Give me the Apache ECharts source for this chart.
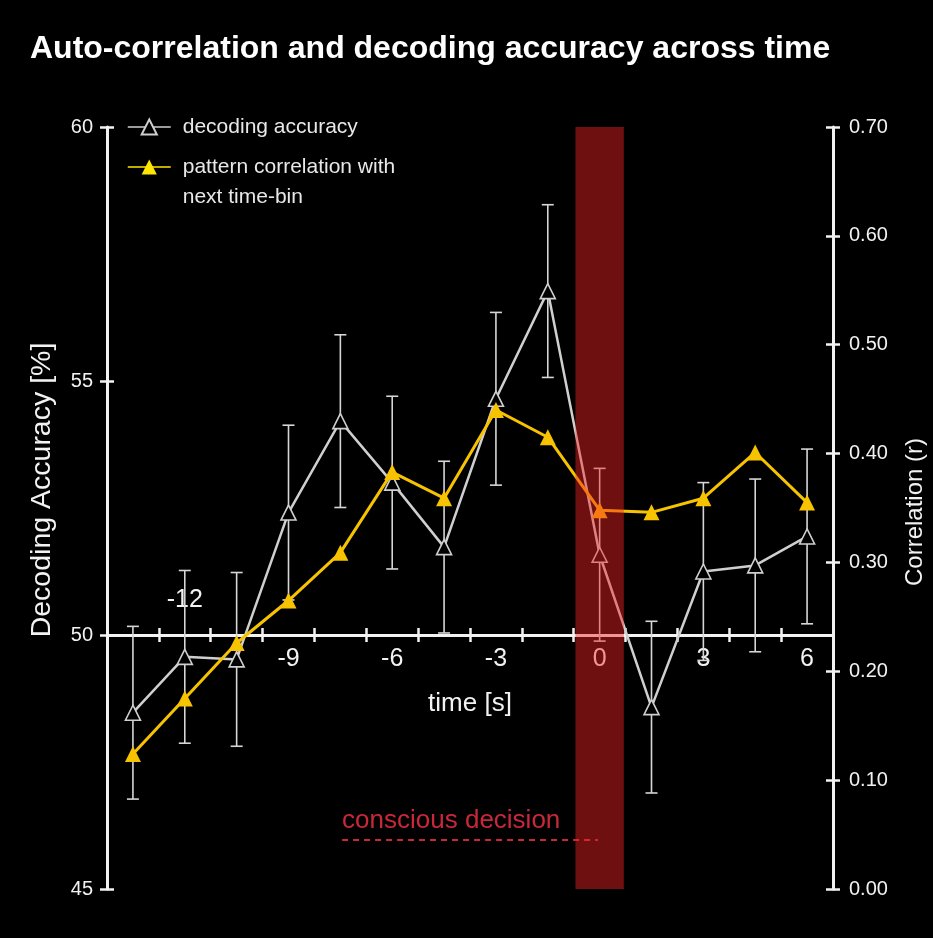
<!DOCTYPE html>
<html><head><meta charset="utf-8">
<script src="https://cdn.jsdelivr.net/npm/echarts@6/dist/echarts.min.js"></script>
<style>html,body{margin:0;padding:0;background:#000}#c{width:933px;height:938px}</style>
</head><body><div id="c"></div>
<script>
// ---- data ----
const timeBins = [-13.5, -12, -10.5, -9, -7.5, -6, -4.5, -3, -1.5, 0, 1.5, 3, 4.5, 6];
const decodingAccuracy = [48.47, 49.57, 49.52, 52.41, 54.21, 53.00, 51.73, 54.65, 56.77, 51.58, 48.58, 51.25, 51.37, 51.94];
const decodingSem = [1.70, 1.70, 1.71, 1.72, 1.70, 1.70, 1.69, 1.70, 1.70, 1.70, 1.69, 1.75, 1.70, 1.72];
const patternCorrelation = [0.124, 0.175, 0.226, 0.265, 0.309, 0.383, 0.359, 0.440, 0.415, 0.348, 0.346, 0.359, 0.401, 0.355];
const timeTickValues = [-12.75, -11.25, -9.75, -8.25, -6.75, -5.25, -3.75, -2.25, -0.75, 0.75, 2.25, 3.75, 5.25];
const timeLabelValues = [-9, -6, -3, 0, 3, 6];
const timeLabelAboveValues = [-12];
const decisionWindow = [-0.7, 0.7];
const decisionText = 'conscious decision';
const seriesNames = ['decoding accuracy', 'pattern correlation with next time-bin'];

// ---- layout ----
const W = 933, H = 938;
const gridTop = 127, gridBottom = 49, gridLeft = 107, gridRight = 100;
const accMin = 45, accMax = 60, accCross = 50;
const corrMin = 0, corrMax = 0.7;
const tMin = -14.25, tMax = 6.75;
const gridH = H - gridTop - gridBottom;
const xOffset = -gridH * (accCross - accMin) / (accMax - accMin);
const FONT = 'Liberation Sans, Arial, sans-serif';
const WHITE = '#f2f2f2';
const GRAY = '#cfcfcf';
const YELLOW = '#f7c300';

const chart = echarts.init(document.getElementById('c'), null, {renderer: 'canvas'});

const errData = timeBins.map((t, i) => [t, decodingAccuracy[i] - decodingSem[i], decodingAccuracy[i] + decodingSem[i]]);
const accData = timeBins.map((t, i) => [t, decodingAccuracy[i]]);
const corrData = timeBins.map((t, i) => [t, patternCorrelation[i]]);

const baseX = {
  type: 'value', min: tMin, max: tMax, position: 'bottom', offset: xOffset,
  splitLine: {show: false}
};
const baseYL = {type: 'value', min: accMin, max: accMax, interval: 5, position: 'left', splitLine: {show: false}};
const baseYR = {type: 'value', min: corrMin, max: corrMax, interval: 0.1, position: 'right', splitLine: {show: false}};
const tickStyle = {color: WHITE, width: 2.5};

chart.setOption({
  backgroundColor: '#000',
  animation: false,
  textStyle: {fontFamily: FONT},
  title: {
    text: 'Auto-correlation and decoding accuracy across time',
    left: 25, top: 28,
    textStyle: {color: '#ffffff', fontSize: 32, fontWeight: 'bold', fontFamily: FONT}
  },
  legend: [
    {
      data: [seriesNames[0]], orient: 'vertical', left: 127, top: 112, padding: 0,
      itemWidth: 43, itemHeight: 19,
      lineStyle: {width: 1.5},
      textStyle: {color: '#e8e8e8', fontSize: 21, lineHeight: 30, padding: [0, 0, 0, 7], fontFamily: FONT}
    },
    {
      data: [seriesNames[1]], orient: 'vertical', left: 127, top: 122, padding: 0,
      itemWidth: 43, itemHeight: 19,
      itemStyle: {color: '#ffe600'},
      lineStyle: {width: 1.5, color: '#ffe600'},
      formatter: () => '\u00a0\npattern correlation with\nnext time-bin',
      textStyle: {color: '#e8e8e8', fontSize: 21, lineHeight: 30, padding: [0, 0, 0, 7], fontFamily: FONT}
    }
  ],
  grid: {left: gridLeft, right: gridRight, top: gridTop, bottom: gridBottom, outerBoundsMode: 'none'},
  xAxis: [
    Object.assign({}, baseX, {
      axisLine: {show: true, lineStyle: {color: WHITE, width: 3}},
      axisTick: {show: true, customValues: timeTickValues, length: 7, lineStyle: tickStyle},
      axisLabel: {show: true, customValues: timeLabelValues, color: WHITE, fontSize: 25, margin: 12, fontFamily: FONT},
      name: 'time [s]', nameLocation: 'middle', nameGap: 56,
      nameTextStyle: {color: WHITE, fontSize: 26, fontFamily: FONT}
    }),
    Object.assign({}, baseX, {
      axisLine: {show: false},
      axisTick: {show: true, inside: true, customValues: timeTickValues, length: 7, lineStyle: tickStyle},
      axisLabel: {show: true, inside: true, customValues: timeLabelAboveValues, color: WHITE, fontSize: 25, margin: 22, fontFamily: FONT}
    })
  ],
  yAxis: [
    Object.assign({}, baseYL, {
      axisLine: {show: true, onZero: false, lineStyle: {color: WHITE, width: 3}},
      axisTick: {show: true, length: 7, lineStyle: tickStyle},
      axisLabel: {color: WHITE, fontSize: 20, margin: 14, fontFamily: FONT},
      name: 'Decoding Accuracy [%]', nameLocation: 'middle', nameGap: 50,
      nameTextStyle: {color: WHITE, fontSize: 28.5, fontFamily: FONT, padding: [0, 0, 0, 36]}
    }),
    Object.assign({}, baseYR, {
      axisLine: {show: true, onZero: false, lineStyle: {color: WHITE, width: 3}},
      axisTick: {show: true, length: 7, lineStyle: tickStyle},
      axisLabel: {color: WHITE, fontSize: 20, margin: 16, fontFamily: FONT, formatter: v => v.toFixed(2)},
      name: 'Correlation (r)', nameLocation: 'middle', nameGap: 70,
      nameTextStyle: {color: WHITE, fontSize: 24, fontFamily: FONT, padding: [0, 8, 0, 0]}
    }),
    Object.assign({}, baseYL, {
      axisLine: {show: false, onZero: false}, axisLabel: {show: false},
      axisTick: {show: true, inside: true, length: 7, lineStyle: tickStyle}
    }),
    Object.assign({}, baseYR, {
      axisLine: {show: false, onZero: false}, axisLabel: {show: false},
      axisTick: {show: true, inside: true, length: 7, lineStyle: tickStyle}
    })
  ],
  series: [
    {
      type: 'custom', xAxisIndex: 0, yAxisIndex: 0, z: 2, silent: true,
      encode: {x: 0, y: [1, 2]},
      data: errData,
      renderItem: function (params, api) {
        const x = api.value(0);
        const lo = api.coord([x, api.value(1)]);
        const hi = api.coord([x, api.value(2)]);
        const w = 6;
        const st = {stroke: '#d6d6d6', lineWidth: 1.6};
        return {type: 'group', children: [
          {type: 'line', shape: {x1: lo[0], y1: lo[1], x2: hi[0], y2: hi[1]}, style: st},
          {type: 'line', shape: {x1: lo[0] - w, y1: lo[1], x2: lo[0] + w, y2: lo[1]}, style: st},
          {type: 'line', shape: {x1: hi[0] - w, y1: hi[1], x2: hi[0] + w, y2: hi[1]}, style: st}
        ]};
      },
      markLine: {
        silent: true, symbol: ['none', 'none'],
        lineStyle: {color: '#c8283a', width: 2, type: [6, 5]},
        label: {show: true, position: 'insideStartTop', formatter: decisionText, color: '#c8283a', fontSize: 26, distance: [0, 6], fontFamily: FONT},
        data: [[{coord: [-7.45, 45.96]}, {coord: [-0.05, 45.96]}]]
      }
    },
    {
      name: seriesNames[0], type: 'line', xAxisIndex: 0, yAxisIndex: 0, z: 3,
      data: accData,
      symbol: 'triangle', symbolSize: 15, showAllSymbol: true,
      itemStyle: {color: '#000000', borderColor: GRAY, borderWidth: 1.6},
      lineStyle: {color: GRAY, width: 2.5}
    },
    {
      name: seriesNames[1], type: 'line', xAxisIndex: 0, yAxisIndex: 1, z: 4,
      data: corrData,
      symbol: 'triangle', symbolSize: 16, showAllSymbol: true,
      itemStyle: {color: YELLOW},
      lineStyle: {color: YELLOW, width: 3}
    },
    {
      type: 'custom', xAxisIndex: 0, yAxisIndex: 0, z: 10, silent: true,
      encode: {x: [0, 1]},
      data: [decisionWindow],
      renderItem: function (params, api) {
        const p0 = api.coord([api.value(0), accMax]);
        const p1 = api.coord([api.value(1), accMin]);
        return {type: 'rect', shape: {x: p0[0], y: p0[1], width: p1[0] - p0[0], height: p1[1] - p0[1]},
          style: {fill: 'rgba(244,33,36,0.45)'}};
      }
    }
  ]
});
</script>
</body></html>
